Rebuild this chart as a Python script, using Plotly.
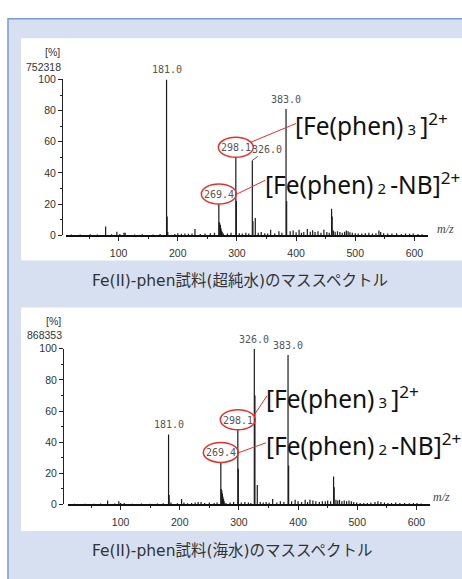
import plotly.graph_objects as go

W, H = 462, 579

# ---------------- data ----------------
# Spectrum 1: Fe(II)-phen sample in ultrapure water (relative intensity, %)
mz_1 = [20, 35, 52, 64, 78, 88, 97, 102, 109, 111, 127, 140, 158, 170,
        181.0, 182, 183, 195, 200, 206, 212, 218, 224, 229, 238, 246, 255, 262,
        269.4, 270, 271, 272, 273, 274, 275, 277, 284, 290,
        298.1, 299, 304, 309, 315, 320,
        326.0, 327, 331, 336, 341, 347, 352, 357, 364, 371, 376,
        383.0, 384, 390, 395, 400, 405, 409, 413, 419, 424, 428, 432, 437, 442, 447, 452,
        456, 460, 461, 463, 466, 470, 474, 478, 482, 485, 488, 491, 495, 500, 505,
        511, 517, 523, 529, 535, 540, 543, 548, 555, 562, 570, 578, 585, 592, 598, 606, 613]
int_1 = [0.5, 0.4, 0.6, 0.5, 5.5, 0.6, 2.2, 0.7, 1.6, 1.5, 0.5, 0.6, 0.5, 0.8,
         100, 12, 2.0, 0.8, 1.2, 0.9, 1.0, 0.9, 1.1, 4.0, 0.8, 1.0, 1.2, 1.5,
         20, 8.5, 7.5, 6.5, 4.5, 3.0, 2.0, 1.0, 1.0, 1.5,
         50, 22, 1.2, 1.0, 1.5, 1.0,
         48, 9, 11, 1.5, 2.0, 1.2, 1.0, 3.5, 1.2, 2.5, 1.5,
         81, 22, 2.5, 3.0, 1.8, 3.5, 1.5, 2.0, 4.0, 2.2, 3.2, 2.0, 2.5, 1.5, 3.5, 2.0,
         1.5, 17, 12, 3.0, 2.2, 2.5, 2.0, 1.5, 2.2, 3.0, 2.5, 1.8, 1.5, 1.2, 1.0,
         1.0, 1.2, 1.5, 1.0, 1.2, 3.0, 2.0, 1.2, 1.0, 1.0, 1.2, 0.8, 1.0, 0.9, 1.0, 0.8, 0.6]

# Spectrum 2: Fe(II)-phen sample in seawater (relative intensity, %)
mz_2 = [22, 40, 55, 66, 78, 90, 97, 100, 106, 120, 135, 150, 162, 172,
        181.0, 182, 185, 196, 203, 207, 213, 220, 226, 231, 236, 242, 250, 258, 263,
        269.4, 270, 271, 272, 273, 274, 275, 278, 285, 291,
        298.1, 299, 304, 310, 316, 320,
        326.0, 327, 331, 336, 341, 346, 351, 357, 364, 370, 376,
        383.0, 384, 389, 395, 400, 406, 412, 416, 420, 425, 430, 436, 441, 446, 450, 455,
        460, 461, 464, 467, 470, 474, 478, 482, 486, 490, 494, 499, 505,
        511, 517, 523, 530, 535, 540, 546, 552, 558, 565, 572, 580, 588, 595, 601, 608, 615]
int_2 = [0.4, 0.5, 0.5, 0.6, 2.5, 0.6, 2.0, 1.0, 1.0, 0.5, 0.6, 0.5, 0.6, 0.7,
         45, 6, 1.2, 0.8, 3.5, 1.2, 0.8, 1.0, 1.2, 1.5, 1.5, 1.0, 1.2, 1.0, 1.2,
         27, 10, 9, 7, 5, 3.5, 2.0, 1.0, 1.2, 1.5,
         48, 23, 1.2, 1.5, 1.2, 1.0,
         100, 70, 12.5, 1.5, 1.2, 1.5, 1.2, 3.5, 1.2, 2.0, 1.5,
         96, 25, 2.0, 3.0, 2.0, 1.5, 3.0, 1.5, 3.0, 2.5, 2.0, 1.5, 2.0, 2.0, 2.5, 2.0,
         18, 11, 3.0, 2.5, 3.0, 2.0, 2.5, 2.0, 2.5, 2.0, 1.5, 1.2, 1.0,
         1.0, 1.0, 1.2, 1.5, 2.0, 1.5, 1.2, 1.0, 1.0, 1.2, 1.0, 1.0, 0.8, 1.0, 0.9, 0.6]

# labelled peaks
label_mz_1 = [181.0, 383.0, 298.1, 326.0, 269.4]
label_int_1 = [100, 81, 50, 48, 20]
label_mz_2 = [326.0, 383.0, 181.0, 298.1, 269.4]
label_int_2 = [100, 96, 45, 48, 27]

base_peak_1 = "752318"
base_peak_2 = "868353"

x_ticks = [100, 200, 300, 400, 500, 600]
y_ticks = [0, 20, 40, 60, 80, 100]

caption_1 = "Fe(II)-phen試料(超純水)のマススペクトル"
caption_2 = "Fe(II)-phen試料(海水)のマススペクトル"
SUBSTYLE = "font-size:15px"
ion_a = f"[Fe(phen)\u2009<span style='{SUBSTYLE}'>3</span>\u2009]<sup>2+</sup>"
ion_b = f"[Fe(phen)\u2009<span style='{SUBSTYLE}'>2</span>\u2009-NB]<sup>2+</sup>"

# ---------------- helpers (page pixel -> paper fraction) ----------------
def px(x):
    return x / W

def py(y):
    return 1 - y / H

def sticks(mz, inten):
    xs, ys = [], []
    for m, v in zip(mz, inten):
        xs += [m, m, None]
        ys += [0, v, None]
    return xs, ys

fig = go.Figure()

for i, (mz, inten) in enumerate([(mz_1, int_1), (mz_2, int_2)]):
    xs, ys = sticks(mz, inten)
    fig.add_trace(go.Scatter(
        x=xs, y=ys, mode="lines",
        line=dict(color="#1a1a1a", width=1.2),
        hoverinfo="skip", showlegend=False,
        xaxis="x" if i == 0 else "x2",
        yaxis="y" if i == 0 else "y2",
        cliponaxis=False,
    ))

tickfont = dict(family="Liberation Sans, Arial, sans-serif", size=10.5, color="#333333")

def xaxis_cfg(x0, x1, anchor):
    return dict(
        domain=[px(x0), px(x1)], range=[11, 623], anchor=anchor,
        showline=True, linecolor="#111111", linewidth=1.5,
        showgrid=False, zeroline=False,
        tickvals=x_ticks, ticks="outside", ticklen=4, tickcolor="#222222", tickwidth=1,
        minor=dict(dtick=50, tick0=0, ticks="outside", ticklen=2, tickcolor="#222222"),
        tickfont=tickfont, ticklabelstandoff=3,
        fixedrange=True,
    )

def yaxis_cfg(ytop, ybot, xpos):
    return dict(
        domain=[py(ybot), py(ytop)], range=[0, 100], anchor="free", position=px(xpos),
        showline=True, linecolor="#222222", linewidth=1,
        showgrid=False, zeroline=False,
        tickvals=y_ticks, ticks="outside", ticklen=4, tickcolor="#222222", tickwidth=1,
        minor=dict(dtick=10, tick0=0, ticks="outside", ticklen=2, tickcolor="#222222"),
        tickfont=tickfont,
        fixedrange=True,
    )

shapes = []
# blue frame and white panels
shapes.append(dict(type="rect", xref="paper", yref="paper",
                   x0=px(8), x1=px(480), y0=py(13), y1=py(600),
                   fillcolor="#d6e0f1", line=dict(color="#7a99cf", width=1.5), layer="below"))
shapes.append(dict(type="rect", xref="paper", yref="paper",
                   x0=px(21), x1=px(480), y0=py(33), y1=py(260),
                   fillcolor="#ffffff", line=dict(width=0), layer="below"))
shapes.append(dict(type="rect", xref="paper", yref="paper",
                   x0=px(21), x1=px(480), y0=py(308), y1=py(536),
                   fillcolor="#ffffff", line=dict(width=0), layer="below"))

annotations = []
lab_font = dict(family="DejaVu Sans Mono, Liberation Mono, monospace", size=10, color="#555555")

def peak_labels(mzs, ints, xr, yr, offset_label=None):
    for m, v in zip(mzs, ints):
        txt = f"{m:.1f}"
        if offset_label is not None and m == offset_label:
            annotations.append(dict(x=m, y=v, xref=xr, yref=yr, text=txt, showarrow=True,
                                    arrowhead=0, arrowwidth=1, arrowcolor="#555555",
                                    ax=15, ay=-11, font=lab_font, standoff=0))
        else:
            annotations.append(dict(x=m, y=v, xref=xr, yref=yr, text=txt, showarrow=False,
                                    yanchor="bottom", yshift=2, font=lab_font))

peak_labels(label_mz_1, label_int_1, "x", "y", offset_label=326.0)
peak_labels(label_mz_2, label_int_2, "x2", "y2")

red = "#e5302b"

def ring(m, v, xr, yr):
    shapes.append(dict(type="circle", xref=xr, yref=yr, xsizemode="pixel", ysizemode="pixel",
                       xanchor=m, yanchor=v, x0=-17.5, x1=17.5, y0=0, y1=20,
                       line=dict(color=red, width=1.5), fillcolor="rgba(0,0,0,0)"))

# circled labels: 298.1 and 269.4 in both charts
ring(298.1, 50, "x", "y")
ring(269.4, 20, "x", "y")
ring(298.1, 48, "x2", "y2")
ring(269.4, 27, "x2", "y2")

def red_line(x0, y0, x1, y1):
    shapes.append(dict(type="line", xref="paper", yref="paper",
                       x0=px(x0), y0=py(y0), x1=px(x1), y1=py(y1),
                       line=dict(color=red, width=1)))

red_line(251, 139, 296, 120)
red_line(237, 192, 265, 178)
red_line(254, 418, 267, 398)
red_line(239, 456, 266, 446)

ion_font = dict(family="Noto Sans, DejaVu Sans, sans-serif", size=24.5, color="#111111")

def paper_text(x, y, text, font, xanchor="left", yanchor="middle"):
    annotations.append(dict(x=px(x), y=py(y), xref="paper", yref="paper", text=text,
                            showarrow=False, xanchor=xanchor, yanchor=yanchor, font=font))

paper_text(293, 121, ion_a, ion_font)
paper_text(263, 181, ion_b, ion_font)
paper_text(264, 400, ion_a, ion_font)
paper_text(264, 448, ion_b, ion_font)

small_font = dict(family="Liberation Sans, Arial, sans-serif", size=10.5, color="#333333")
paper_text(62, 47, "[%]", small_font, xanchor="right")
paper_text(63, 62, base_peak_1, small_font, xanchor="right")
paper_text(63, 322, "[%]", small_font, xanchor="right")
paper_text(64, 336, base_peak_2, small_font, xanchor="right")

mz_font = dict(family="Liberation Serif, serif", size=12, color="#444444")
paper_text(435, 228, "<i>m/z</i>", mz_font)
paper_text(431, 501, "<i>m/z</i>", mz_font)

cap_font = dict(family="DejaVu Sans, Noto Sans CJK JP, sans-serif", size=15.5, color="#333333")
paper_text(90, 281, caption_1, cap_font)
paper_text(90, 557, caption_2, cap_font)

fig.update_layout(
    width=W, height=H,
    margin=dict(l=0, r=0, t=0, b=0),
    paper_bgcolor="#ffffff",
    plot_bgcolor="rgba(0,0,0,0)",
    showlegend=False,
    xaxis=xaxis_cfg(66, 428, "y"),
    yaxis=yaxis_cfg(75, 234, 62),
    xaxis2=xaxis_cfg(68, 430, "y2"),
    yaxis2=yaxis_cfg(350, 509, 63),
    shapes=shapes,
    annotations=annotations,
)

fig.write_html(
    "out.html",
    config={"displayModeBar": False, "responsive": False},
    post_script="document.body.style.margin='0';document.documentElement.style.overflow='hidden';",
)
